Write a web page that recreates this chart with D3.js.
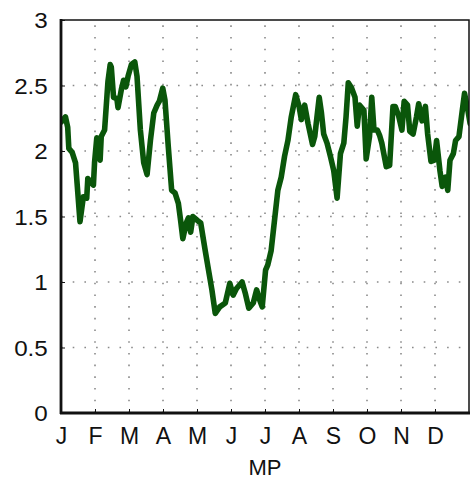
<!DOCTYPE html>
<html><head><meta charset="utf-8">
<script src="https://cdn.jsdelivr.net/npm/d3@7"></script>
<style>
html,body{margin:0;padding:0;background:#fff;}
text{font-family:"Liberation Sans",Arial,sans-serif;}
</style></head>
<body><svg id="c" width="471" height="482"></svg>
<script>
const monthLabels = ["J","F","M","A","M","J","J","A","S","O","N","D"];
const yTicks = [0,0.5,1,1.5,2,2.5,3];
const days = [0,4,6,7,10,13,17,20,23,24,27,29,30,32,35,36,39,42,44,45,47,50,51,54,56,58,60,63,66,68,71,74,77,80,83,86,88,91,93,96,99,102,105,107,109,112,114,116,118,122,125,129,132,135,138,142,147,151,154,157,162,165,168,172,175,177,180,183,185,188,191,194,197,200,203,206,210,213,215,218,221,225,227,231,233,235,238,241,244,247,250,253,255,257,260,263,265,267,271,273,276,278,280,283,285,287,291,294,297,299,302,305,307,310,312,315,318,320,323,326,328,331,334,336,339,341,344,346,348,351,353,356,359,361,364,366];
const values = [2.22,2.26,2.18,2.02,1.99,1.91,1.46,1.65,1.64,1.79,1.76,1.74,1.91,2.10,1.93,2.11,2.16,2.53,2.66,2.64,2.41,2.40,2.33,2.47,2.54,2.49,2.57,2.66,2.68,2.57,2.16,1.91,1.82,2.08,2.29,2.35,2.38,2.48,2.39,2.03,1.70,1.68,1.60,1.47,1.33,1.45,1.49,1.38,1.50,1.47,1.45,1.24,1.09,0.94,0.76,0.81,0.84,0.99,0.90,0.95,1.00,0.91,0.80,0.84,0.94,0.88,0.81,1.09,1.13,1.24,1.47,1.70,1.80,1.96,2.08,2.26,2.43,2.34,2.24,2.35,2.21,2.05,2.11,2.41,2.29,2.13,2.06,1.96,1.85,1.64,1.98,2.06,2.26,2.52,2.48,2.41,2.19,2.35,2.31,1.94,2.11,2.41,2.16,2.16,2.12,2.06,1.88,1.89,2.34,2.34,2.27,2.16,2.38,2.35,2.15,2.13,2.26,2.36,2.23,2.34,2.13,1.92,1.93,2.08,1.85,1.73,1.80,1.70,1.93,1.98,2.08,2.11,2.31,2.44,2.31,2.21];
const xLabel = "MP";

const svg = d3.select("#c");
const L=61, R=469, T=20, B=413;
const x = d3.scaleLinear().domain([0,12]).range([L,R]);
const xd = d3.scaleLinear().domain([0,365]).range([L,R]);
const y = d3.scaleLinear().domain([0,3]).range([B,T]);

// grid
const grid = svg.append("g").attr("stroke","#8a8a8a").attr("stroke-width",1.6).attr("stroke-dasharray","1.6,10.1");
d3.range(1,12).forEach(m=>{
  grid.append("line").attr("x1",x(m)).attr("x2",x(m)).attr("y1",B).attr("y2",T);
});
yTicks.filter(v=>v>0&&v<3).forEach(v=>{
  grid.append("line").attr("x1",L).attr("x2",R).attr("y1",y(v)).attr("y2",y(v));
});

// line
svg.append("clipPath").attr("id","clip").append("rect").attr("x",L).attr("y",T).attr("width",R-L).attr("height",B-T);
const line = d3.line().x((d,i)=>xd(days[i])).y(d=>y(d));
svg.append("path").datum(values).attr("clip-path","url(#clip)")
  .attr("d",line).attr("fill","none").attr("stroke","#0a560a")
  .attr("stroke-width",5.6).attr("stroke-linejoin","round").attr("stroke-linecap","round");

// frame
svg.append("rect").attr("x",L).attr("y",T).attr("width",R-L).attr("height",B-T)
  .attr("fill","none").attr("stroke","#111").attr("stroke-width",1.5);
svg.append("line").attr("x1",L).attr("x2",L).attr("y1",T-1).attr("y2",B+1).attr("stroke","#111").attr("stroke-width",2.8);
svg.append("line").attr("x1",L-1).attr("x2",R+1).attr("y1",B).attr("y2",B).attr("stroke","#111").attr("stroke-width",2.8);

// axes
const yAxis = d3.axisLeft(y).tickValues(yTicks).tickFormat(d3.format("~g")).tickSizeInner(-4).tickSizeOuter(0).tickPadding(12);
const gy = svg.append("g").attr("transform",`translate(${L},0)`).call(yAxis);
gy.select(".domain").remove();
gy.selectAll("line").attr("stroke","#111");
gy.selectAll("text").attr("font-size",22).attr("fill","#111").attr("font-family","Liberation Sans, Arial, sans-serif").attr("transform","scale(1.1,1)").attr("dy","0.36em");

const xAxis = d3.axisBottom(x).tickValues(d3.range(0,12)).tickFormat(i=>monthLabels[i]).tickSizeInner(-4).tickSizeOuter(0).tickPadding(12);
const gx = svg.append("g").attr("transform",`translate(0,${B})`).call(xAxis);
gx.select(".domain").remove();
gx.selectAll("line").attr("stroke","#111");
gx.selectAll("text").attr("font-size",23).attr("fill","#111").attr("font-family","Liberation Sans, Arial, sans-serif").attr("y",31).attr("dy",0);

svg.append("text").attr("x",(L+R)/2).attr("y",475).attr("text-anchor","middle")
  .attr("font-size",22).attr("fill","#111").text(xLabel);
</script></body></html>
